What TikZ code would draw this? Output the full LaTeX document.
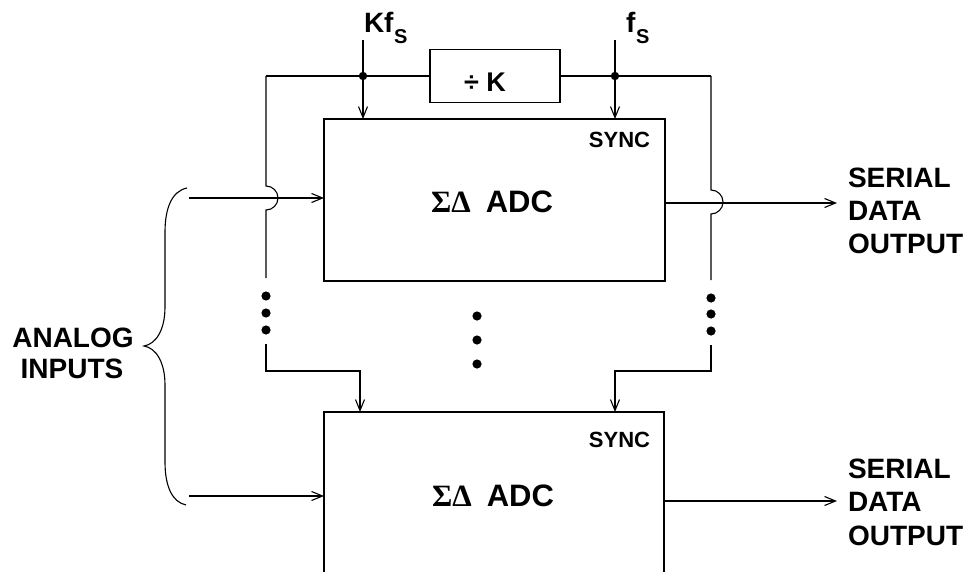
\documentclass[tikz,border=0pt]{standalone}
\usepackage{fontspec}
\setmainfont{Liberation Sans}
\newfontfamily\symfont{Liberation Serif}
\usetikzlibrary{arrows.meta}
\tikzset{
  ln/.style={line width=1.1pt, line cap=butt, line join=miter},
  arr/.style={ln, -{Straight Barb[length=11pt,width=9pt,line width=1.1pt]}},
  box/.style={ln, draw, fill=none, inner sep=0pt, outer sep=0pt},
  lbl/.style={inner sep=0pt, outer sep=0pt, font=\bfseries\fontsize{28}{28}\selectfont},
  subs/.style={inner sep=0pt, outer sep=0pt, font=\bfseries\fontsize{20}{20}\selectfont},
  big/.style={inner sep=0pt, outer sep=0pt, font=\bfseries\fontsize{31}{31}\selectfont},
  sync/.style={inner sep=0pt, outer sep=0pt, font=\bfseries\fontsize{22}{22}\selectfont},
}
\begin{document}
\begin{tikzpicture}[x=1pt,y=-1pt]
\useasboundingbox (0,0) rectangle (966,572);
\clip (0,0) rectangle (966,572);
% boxes
\node[box, minimum width=341pt, minimum height=162pt] (adc1) at (494.5,200) {};
\node[box, minimum width=340pt, minimum height=200pt] (adc2) at (494,512) {};
\node[box, minimum width=130pt, minimum height=53pt] (div) at (495,76) {};
% coordinates
\coordinate (kfin) at (363,40);
\coordinate (kfj) at (363,76);
\coordinate (fsin) at (615,40);
\coordinate (fsj) at (615,76);
\coordinate (lt) at (266,76);
\coordinate (rt) at (711,76);
\coordinate (in1) at (189,198);
\coordinate (in2) at (189,496);
\coordinate (out1) at (837,203);
\coordinate (out2) at (837,501);
\coordinate (lb) at (266,344);
\coordinate (rb) at (711,345);
\coordinate (lc) at (360,371);
\coordinate (rc) at (615,371);
% clock line
\draw[ln] (lt) -- (kfj) -- (div.west);
\draw[ln] (div.east) -- (fsj) -- (rt);
\draw[arr] (kfin) -- (kfin |- adc1.north);
\draw[arr] (fsin) -- (fsin |- adc1.north);
\fill (kfj) circle (4.2);
\fill (fsj) circle (4.2);
% verticals with hops
\draw[ln] (lt) -- (266,186) arc (-90:90:12) -- (266,278);
\draw[ln] (rt) -- (711,190) arc (-90:90:12) -- (711,280);
% inputs / outputs
\draw[arr] (in1) -- (in1 -| adc1.west);
\draw[arr] (in2) -- (in2 -| adc2.west);
\draw[arr] (out1 -| adc1.east) -- (out1);
\draw[arr] (out2 -| adc2.east) -- (out2);
% lower clock feeds
\draw[arr] (lb) -- (lb |- lc) -- (lc) -- (lc |- adc2.north);
\draw[arr] (rb) -- (rb |- rc) -- (rc) -- (rc |- adc2.north);
% dots
\foreach \yy in {296,313,330} \fill (266,\yy) circle (4.6);
\foreach \yy in {298,314,331} \fill (711,\yy) circle (4.6);
\foreach \yy in {316,340,364} \fill (477,\yy) circle (4.6);
% brace
\draw[ln] (187,188) .. controls (172,191) and (165,208) .. (165,232)
  -- (165,307) .. controls (165,330) and (156,344) .. (144,346)
  .. controls (156,348) and (165,362) .. (165,385)
  -- (165,462) .. controls (165,486) and (172,502) .. (186,505);
% labels
\node[lbl, anchor=base west] (kf) at (364,33) {Kf};
\node[subs, anchor=base west] (kfs) at (394,44) {S};
\node[lbl, anchor=base west] (f) at (626,33) {f};
\node[subs, anchor=base west] (fss) at (636,44) {S};
\node[inner sep=0pt, font=\bfseries\fontsize{27}{27}\selectfont] (divt) at (485,82) {÷ K};
\node[sync] (s1) at (619.5,140) {SYNC};
\node[sync] (s2) at (619.5,440) {SYNC};
\node[big] (t1) at (492,202) {{\symfont\bfseries ΣΔ}\hspace{15pt}ADC};
\node[big] (t2) at (493,496) {{\symfont\bfseries ΣΔ}\hspace{15pt}ADC};
\node[lbl, anchor=base west] (o11) at (848,188) {SERIAL};
\node[lbl, anchor=base west] (o12) at (848,220) {DATA};
\node[lbl, anchor=base west] (o13) at (848,253) {OUTPUT};
\node[lbl, anchor=base west] (o21) at (848,478) {SERIAL};
\node[lbl, anchor=base west] (o22) at (848,511) {DATA};
\node[lbl, anchor=base west] (o23) at (848,545) {OUTPUT};
\node[lbl, anchor=base] (a1) at (73,347) {ANALOG};
\node[lbl, anchor=base] (a2) at (72,378) {INPUTS};
\end{tikzpicture}
\end{document}
